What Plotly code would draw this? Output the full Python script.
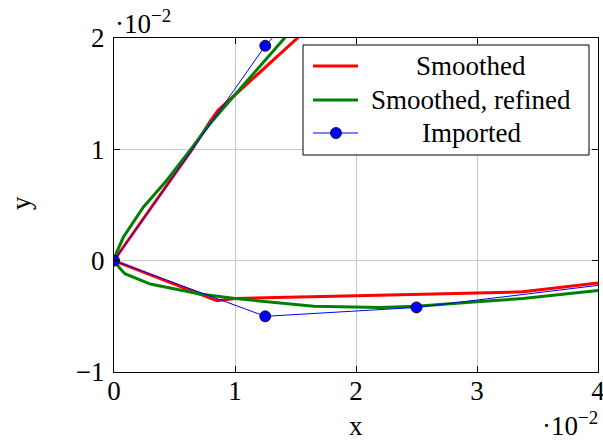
import plotly.graph_objects as go

# Contour samples (units of 1e-2), each traced from the upper branch
# through the leading point (0, 0) and along the lower branch.
smoothed_x = [3.00, 1.51, 0.86, 0.80, 0.64, 0.05, 0.00, 0.85, 1.00, 2.00, 3.38, 4.00, 4.60]
smoothed_y = [3.47, 2.00, 1.35, 1.26, 0.99, 0.08, 0.00, -0.36, -0.34, -0.315, -0.28, -0.20, -0.13]

refined_x = [2.00, 1.41, 0.96, 0.793, 0.628, 0.435, 0.242, 0.077, 0.02, 0.00,
             0.05, 0.09, 0.30, 0.71, 1.00, 1.65, 2.20, 2.50, 3.00, 3.38, 4.00, 4.60]
refined_y = [2.70, 2.00, 1.44, 1.23, 0.99, 0.72, 0.48, 0.21, 0.07, 0.00,
             -0.07, -0.117, -0.21, -0.30, -0.34, -0.41, -0.42, -0.41, -0.37, -0.34, -0.267, -0.19]

imported_x = [2.50, 1.25, 0.00, 1.25, 2.50, 5.00]
imported_y = [3.43, 1.93, 0.00, -0.50, -0.42, -0.09]

x_ticks = [0, 1, 2, 3, 4]
y_ticks = [-1, 0, 1, 2]

FONT = "Times New Roman, Liberation Serif, DejaVu Serif, serif"
FS = 27

fig = go.Figure()
fig.add_trace(go.Scatter(x=smoothed_x, y=smoothed_y, mode="lines",
                         line=dict(color="#ff0000", width=3), name="Smoothed"))
fig.add_trace(go.Scatter(x=refined_x, y=refined_y, mode="lines",
                         line=dict(color="#008000", width=3), name="Smoothed, refined"))
fig.add_trace(go.Scatter(x=imported_x, y=imported_y, mode="lines+markers",
                         line=dict(color="#0000ff", width=1),
                         marker=dict(size=11, color="#0000ff",
                                     line=dict(color="black", width=0.8)),
                         name="Imported"))

axis_common = dict(
    showgrid=True, gridcolor="#c8c8c8", gridwidth=1,
    zeroline=False, showline=True, linecolor="black", linewidth=1.2,
    mirror="ticks", ticks="inside", ticklen=6, tickcolor="black", tickwidth=1,
    tickfont=dict(family=FONT, size=FS, color="black"),
    ticklabeloverflow="allow", automargin=False,
)
fig.update_xaxes(range=[0, 4], tickvals=x_ticks, ticktext=[str(v) for v in x_ticks],
                 ticklabelstandoff=-6, **axis_common)
fig.update_yaxes(range=[-1, 2], tickvals=y_ticks,
                 ticktext=[("\u2212" + str(-v)) if v < 0 else str(v) for v in y_ticks],
                 ticklabelstandoff=3, **axis_common)

# Hand-built legend box with centred entry labels
def px_x(p):
    return (p - 114) / 484

def px_y(p):
    return (372 - p) / 334

shapes = [dict(type="rect", xref="paper", yref="paper",
               x0=px_x(303), x1=px_x(589), y0=px_y(155), y1=px_y(45),
               line=dict(color="black", width=1), fillcolor="white", layer="above")]
entries = [("Smoothed", "#ff0000", 3, 66, False),
           ("Smoothed, refined", "#008000", 3, 100, False),
           ("Imported", "#0000ff", 1, 133, True)]
annotations = []
for label, color, w, row, marker in entries:
    shapes.append(dict(type="line", xref="paper", yref="paper",
                       x0=px_x(313), x1=px_x(358), y0=px_y(row), y1=px_y(row),
                       line=dict(color=color, width=w), layer="above"))
    if marker:
        shapes.append(dict(type="circle", xref="paper", yref="paper",
                           xsizemode="pixel", ysizemode="pixel",
                           xanchor=px_x(336), yanchor=px_y(row),
                           x0=-5.5, x1=5.5, y0=-5.5, y1=5.5,
                           fillcolor=color, line=dict(color="black", width=0.8),
                           layer="above"))
    annotations.append(dict(text=label, xref="paper", yref="paper",
                            x=px_x(471), y=px_y(row), xanchor="center", yanchor="middle",
                            showarrow=False, font=dict(family=FONT, size=FS, color="black")))

annotations += [
    dict(text="x", xref="paper", yref="paper", x=0.5, y=px_y(426),
         xanchor="center", yanchor="middle", showarrow=False,
         font=dict(family=FONT, size=FS, color="black")),
    dict(text="y", xref="paper", yref="paper", x=px_x(21), y=px_y(203),
         xanchor="center", yanchor="middle", showarrow=False, textangle=-90,
         font=dict(family=FONT, size=FS, color="black")),
    dict(text="\u00b710<sup>\u22122</sup>", xref="paper", yref="paper",
         x=px_x(113), y=px_y(22), xanchor="left", yanchor="middle", showarrow=False,
         font=dict(family=FONT, size=FS, color="black")),
    dict(text="\u00b710<sup>\u22122</sup>", xref="paper", yref="paper",
         x=px_x(600), y=px_y(424), xanchor="right", yanchor="middle", showarrow=False,
         font=dict(family=FONT, size=FS, color="black")),
]

fig.update_layout(
    width=603, height=441,
    margin=dict(l=114, r=5, t=38, b=69, autoexpand=False),
    plot_bgcolor="white", paper_bgcolor="white",
    showlegend=False,
    shapes=shapes, annotations=annotations,
    font=dict(family=FONT, size=FS, color="black"),
)

fig.write_html("out.html")
